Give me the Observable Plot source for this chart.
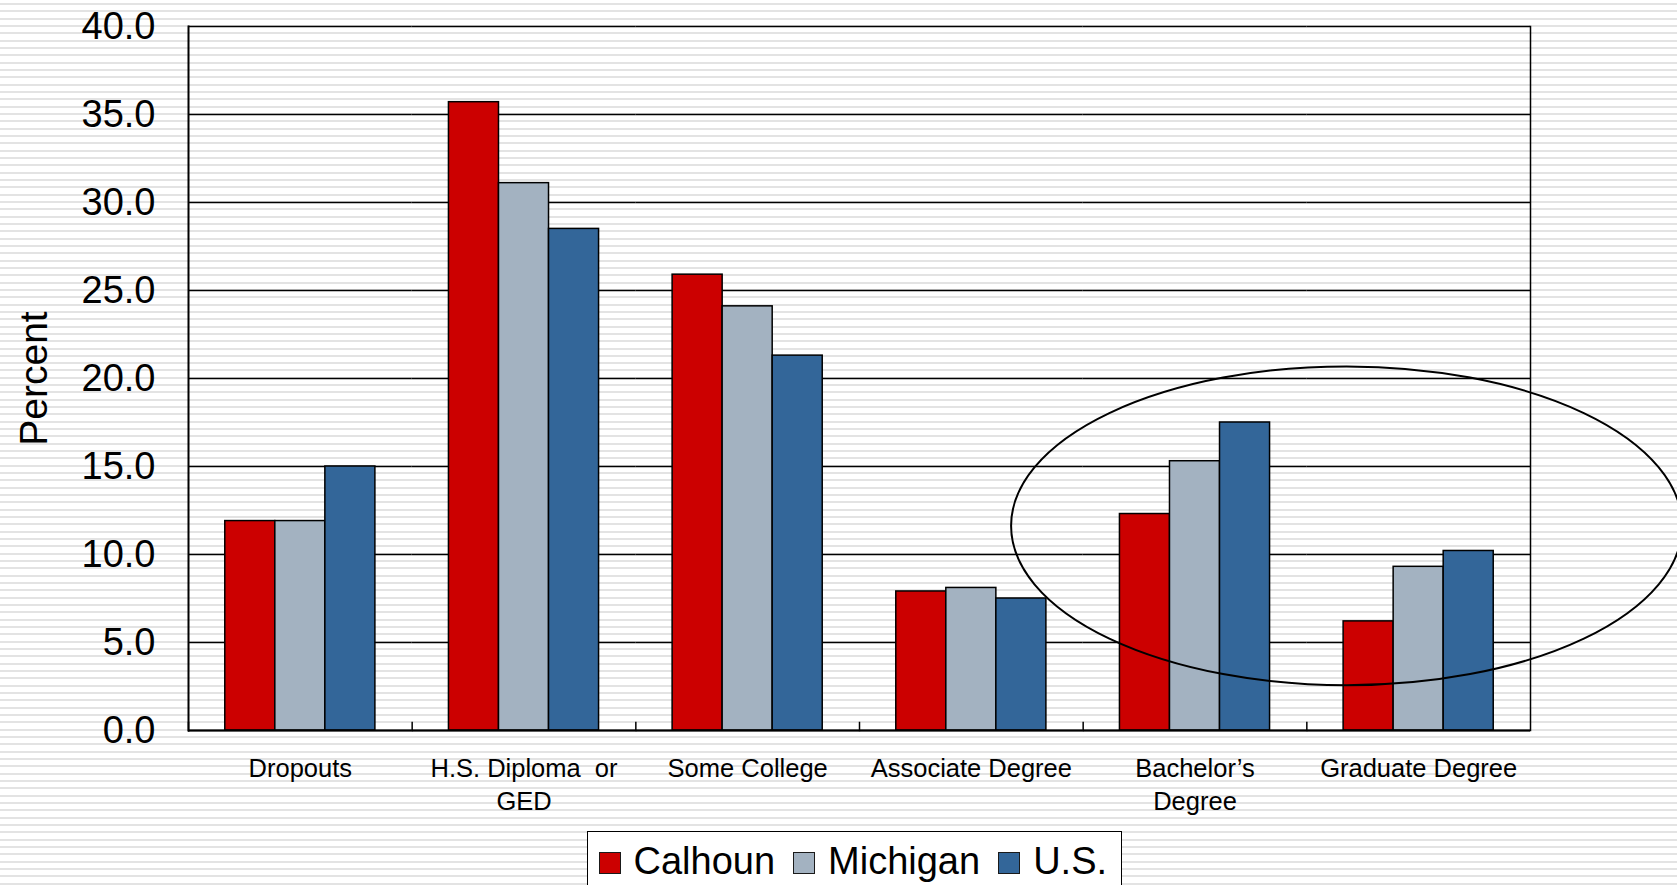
<!DOCTYPE html>
<html>
<head>
<meta charset="utf-8">
<script src="https://cdn.jsdelivr.net/npm/d3@7"></script>
<script src="https://cdn.jsdelivr.net/npm/@observablehq/plot@0.6"></script>
<style>
html, body { margin: 0; padding: 0; width: 1677px; height: 885px; overflow: hidden; }
body {
  position: relative;
  background-color: #ffffff;
  background-image: repeating-linear-gradient(to bottom, #ffffff 0px, #ffffff 3px, #e3e3e3 3px, #e3e3e3 5px, #ffffff 5px, #ffffff 7.33px);
  font-family: "Liberation Sans", Arial, sans-serif;
}
#chart svg text { white-space: pre; }
#legend {
  position: absolute; left: 587px; top: 831px; width: 535px; height: 80px;
  box-sizing: border-box; border: 1.5px solid #000; background: #fff;
  padding: 10px 0 0 10.5px; font-size: 38px; line-height: 38px;
  display: flex; align-items: baseline; white-space: nowrap; color: #000;
}
#legend .sw { display: inline-block; width: 22px; height: 22px; box-sizing: border-box; border: 1.5px solid #1a1a1a; margin-right: 13px; }
#legend .item { display: flex; align-items: baseline; margin-right: 18px; }
</style>
</head>
<body>
<div id="chart"></div>
<div id="legend"></div>
<script>
// ---- data ----
const categories = ["Dropouts", "H.S. Diploma or GED", "Some College", "Associate Degree", "Bachelor’s Degree", "Graduate Degree"];
const xTickLabels = ["Dropouts", "H.S. Diploma  or\nGED", "Some College", "Associate Degree", "Bachelor’s\nDegree", "Graduate Degree"];
const seriesNames = ["Calhoun", "Michigan", "U.S."];
const calhoun  = [11.9, 35.7, 25.9, 7.9, 12.3, 6.2];
const michigan = [11.9, 31.1, 24.1, 8.1, 15.3, 9.3];
const us       = [15.0, 28.5, 21.3, 7.5, 17.5, 10.2];
const yTicks = [0, 5, 10, 15, 20, 25, 30, 35, 40];
const seriesColors = ["#cc0000", "#a3b2c1", "#336699"];

// annotation ellipse (in data / band units)
const ellipseNote = { category: "Graduate Degree", bandOffset: 0.18, centerValue: 11.6, bandRadius: 1.5, valueRadius: 9.06 };

const seriesValues = [calhoun, michigan, us];
const rows = [];
categories.forEach((c, i) => {
  seriesNames.forEach((s, j) => rows.push({ category: c, series: s, value: seriesValues[j][i] }));
});
const labelOf = new Map(categories.map((c, i) => [c, xTickLabels[i]]));

const font = "'Liberation Sans', Arial, sans-serif";

const chart = Plot.plot({
  width: 1677,
  height: 831,
  marginLeft: 188,
  marginRight: 147,
  marginTop: 26,
  marginBottom: 101,
  style: { background: "transparent", fontFamily: font, color: "#000", overflow: "visible" },
  fx: { domain: categories, padding: 0, round: false },
  x: { domain: seriesNames, paddingInner: 0, paddingOuter: 0.735, round: false, axis: null },
  y: { domain: [0, 40] },
  color: { domain: seriesNames, range: seriesColors },
  marks: [
    Plot.ruleY(yTicks, { stroke: "#000", strokeWidth: 1.5 }),
    Plot.barY(rows, { fx: "category", x: "series", y: "value", fill: "series", stroke: "#000", strokeWidth: 1.5 }),
    Plot.frame({ anchor: "left", facetAnchor: "left", stroke: "#000", strokeWidth: 2 }),
    Plot.frame({ anchor: "right", facetAnchor: "right", stroke: "#000", strokeWidth: 1.5 }),
    Plot.frame({ anchor: "left", insetTop: 696, stroke: "#000", strokeWidth: 1.5 }),
    Plot.ruleY([0], { stroke: "#000", strokeWidth: 2 }),
    Plot.axisY({ ticks: yTicks, tickFormat: d => d.toFixed(1), tickSize: 0, tickPadding: 33, fontSize: 38, label: null }),
    Plot.axisFx({ anchor: "bottom", tickSize: 0, tickPadding: 23, fontSize: 25.5, lineHeight: 1.29, label: null, tickFormat: d => labelOf.get(d) }),
    Plot.text(["Percent"], { frameAnchor: "left", facetAnchor: "left", rotate: -90, dx: -142, lineAnchor: "bottom", textAnchor: "middle", fontSize: 39, fill: "#000" })
  ]
});
document.getElementById("chart").appendChild(chart);

// ellipse annotation positioned through the plot's scales
const fxs = chart.scale("fx");
const ys = chart.scale("y");
const bw = fxs.bandwidth;
const cx = fxs.apply(ellipseNote.category) + ellipseNote.bandOffset * bw;
const cy = ys.apply(ellipseNote.centerValue);
const rx = ellipseNote.bandRadius * bw;
const ry = ys.apply(0) - ys.apply(ellipseNote.valueRadius);
d3.select(chart).append("ellipse")
  .attr("cx", cx).attr("cy", cy).attr("rx", rx).attr("ry", ry)
  .attr("fill", "none").attr("stroke", "#000").attr("stroke-width", 2);

// legend
const color = chart.scale("color");
const legend = d3.select("#legend");
seriesNames.forEach(s => {
  const item = legend.append("span").attr("class", "item");
  item.append("span").attr("class", "sw").style("background", color.apply(s));
  item.append("span").text(s);
});
</script>
</body>
</html>
